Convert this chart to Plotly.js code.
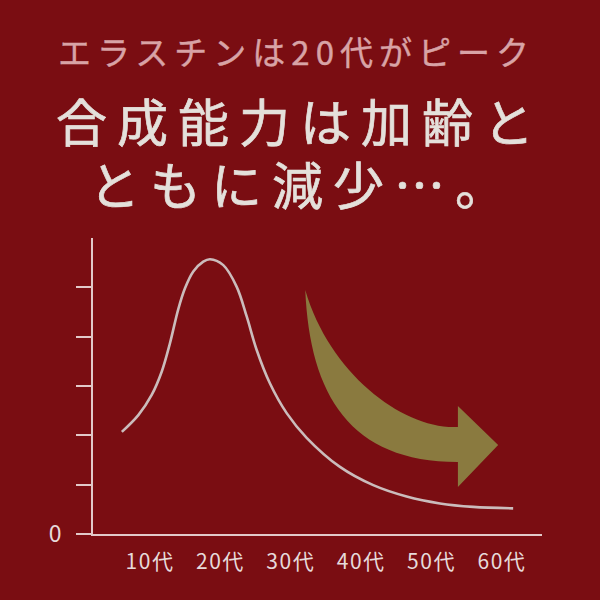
<!DOCTYPE html>
<html>
<head>
<meta charset="utf-8">
<script src="https://cdn.plot.ly/plotly-3.0.1.min.js"></script>
<style>
  html, body { margin: 0; padding: 0; background: #7a0d12; }
  #chart { width: 600px; height: 600px; }
  /* the poster lettering is tracked out and a touch heavier */
  text.annotation-text[style*="font-size: 51px"] { letter-spacing: 10px; stroke: #e4e0db; stroke-width: 0.7px; }
  text.annotation-text[style*="font-size: 33px"] { letter-spacing: 6px; stroke: #d8a3a6; stroke-width: 0.4px; }
  .xtick text { letter-spacing: 1.5px; }
</style>
</head>
<body>
<div id="chart"></div>
<script>
// Elastin synthesis vs. age (y in tick units)
const curveAge = [6.0, 8.34, 10.24, 11.66, 12.84, 14.02, 14.97, 16.15, 17.57, 18.52, 20.41, 22.32, 23.74, 25.16, 27.05, 29.42, 32.26, 36.99, 41.72, 46.46, 51.19, 55.92, 61.6];
const curveVal = [2.07, 2.41, 2.82, 3.29, 3.87, 4.56, 4.98, 5.32, 5.52, 5.57, 5.45, 5.01, 4.41, 3.73, 3.05, 2.45, 1.95, 1.36, 0.99, 0.76, 0.62, 0.55, 0.52];

// decorative "decline" arrow, same data units:
// tip, outer curve controls, head base, head, head base, inner curve controls
const arrowAge = [32.06, 32.73, 38.41, 53.75, 53.75, 59.47, 53.75, 53.75, 46.22, 35.57];
const arrowVal = [4.946, 2.818, 1.46, 1.46, 0.953, 1.804, 2.595, 2.169, 2.108, 3.223];

const decadeVals = [10, 20, 30, 40, 50, 60];
const decadeLabels = ['10代', '20代', '30代', '40代', '50代', '60代'];
const yTickVals = [0, 1, 2, 3, 4, 5];
const yTickText = ['0', '', '', '', '', ''];

const headline = 'エラスチンは20代がピーク';
const mainLine1 = '合成能力は加齢と';
const mainLine2 = 'ともに減少…。';

const BG = '#7a0d12';
const AXIS = '#e2c9c9';
const OLIVE = '#8a7a3f';
const JP = '"Noto Sans CJK JP", "Noto Sans", sans-serif';

// build the arrow outline as a path in data coordinates
const pt = i => arrowAge[i] + ',' + arrowVal[i];
const arrowPath = 'M' + pt(0) +
    ' C' + pt(1) + ' ' + pt(2) + ' ' + pt(3) +
    ' L' + pt(4) + ' L' + pt(5) + ' L' + pt(6) + ' L' + pt(7) +
    ' C' + pt(8) + ' ' + pt(9) + ' ' + pt(0) + ' Z';

const traceCurve = {
    x: curveAge,
    y: curveVal,
    mode: 'lines',
    line: { color: '#cbbcbc', width: 2.6, shape: 'spline', smoothing: 1 },
    type: 'scatter'
};

const layout = {
    width: 600,
    height: 600,
    showlegend: false,
    paper_bgcolor: BG,
    plot_bgcolor: BG,
    margin: { t: 238, r: 58, b: 66, l: 93 },
    xaxis: {
        range: [1.9, 65.7],
        showgrid: false,
        zeroline: false,
        showline: true,
        linecolor: AXIS,
        linewidth: 2,
        ticks: '',
        tickvals: decadeVals,
        ticktext: decadeLabels,
        ticklabelstandoff: 8,
        tickfont: { family: JP, size: 21, color: '#e6dada' },
        fixedrange: true
    },
    yaxis: {
        range: [0, 6],
        showgrid: false,
        zeroline: false,
        showline: true,
        linecolor: AXIS,
        linewidth: 2,
        ticks: 'outside',
        ticklen: 15,
        tickwidth: 2,
        tickcolor: AXIS,
        tickvals: yTickVals,
        ticktext: yTickText,
        ticklabelstandoff: 10,
        tickfont: { family: JP, size: 23, color: '#e6dada' },
        fixedrange: true
    },
    shapes: [
        { type: 'path', xref: 'x', yref: 'y', path: arrowPath, fillcolor: OLIVE,
          line: { width: 0 }, layer: 'below' }
    ],
    annotations: [
        { text: headline, xref: 'paper', yref: 'paper', x: 0.454, y: 1.632, showarrow: false,
          xanchor: 'center', yanchor: 'middle', font: { family: JP, size: 33, color: '#d8a3a6' } },
        { text: mainLine1, xref: 'paper', yref: 'paper', x: 0.461, y: 1.398, showarrow: false,
          xanchor: 'center', yanchor: 'middle', font: { family: JP, size: 51, color: '#e4e0db' } },
        { text: mainLine2, xref: 'paper', yref: 'paper', x: 0.467, y: 1.186, showarrow: false,
          xanchor: 'center', yanchor: 'middle', font: { family: JP, size: 51, color: '#e4e0db' } }
    ]
};

Plotly.newPlot('chart', [traceCurve], layout, { displayModeBar: false, staticPlot: true });
</script>
</body>
</html>
